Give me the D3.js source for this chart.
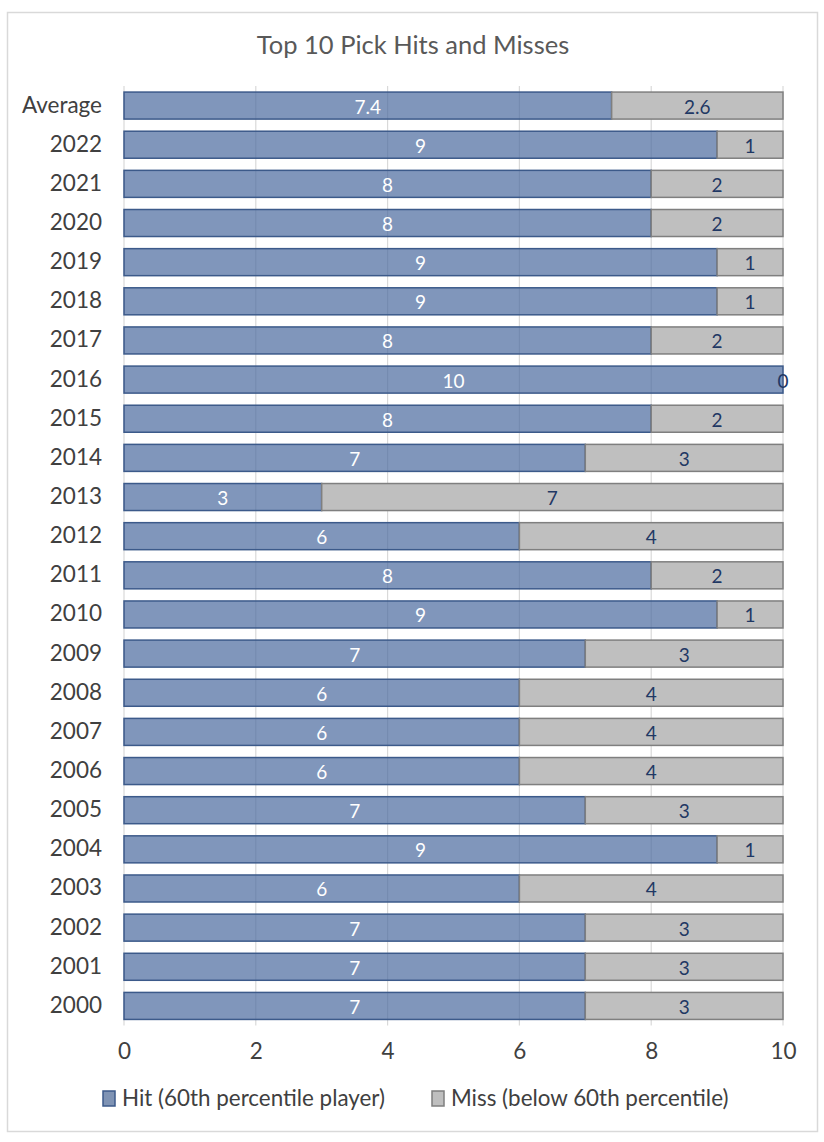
<!DOCTYPE html>
<html>
<head>
<meta charset="utf-8">
<script src="https://cdn.jsdelivr.net/npm/d3@7"></script>
<style>
  body { margin: 0; background: #fff; }
  svg text { font-family: Lato, "Open Sans", sans-serif; }
</style>
</head>
<body>
<svg id="chart" width="824" height="1142"></svg>
<script>
// Data ////////////////////////////////////////////////////////////////
var categories = ["Average", "2022", "2021", "2020", "2019", "2018", "2017", "2016", "2015", "2014",
    "2013", "2012", "2011", "2010", "2009", "2008", "2007", "2006", "2005", "2004",
    "2003", "2002", "2001", "2000"];
var hits   = [7.4, 9, 8, 8, 9, 9, 8, 10, 8, 7, 3, 6, 8, 9, 7, 6, 6, 6, 7, 9, 6, 7, 7, 7];
var misses = [2.6, 1, 2, 2, 1, 1, 2, 0, 2, 3, 7, 4, 2, 1, 3, 4, 4, 4, 3, 1, 4, 3, 3, 3];
var xTicks = [0, 2, 4, 6, 8, 10];
var seriesNames = ["Hit (60th percentile player)", "Miss (below 60th percentile)"];

var rows = categories.map(function(c, i) { return {cat: c, hit: hits[i], miss: misses[i]} });

var svg = d3.select("#chart");

// Frame
svg.append("rect")
    .attr("x", 7.5).attr("y", 12.5)
    .attr("width", 810).attr("height", 1119)
    .attr("fill", "#fff")
    .attr("stroke", "#d9d9d9")
    .attr("stroke-width", 1.5);

// Title
svg.append("text")
    .attr("x", 413).attr("y", 54)
    .attr("text-anchor", "middle")
    .attr("font-size", 25.5)
    .attr("fill", "#595959")
    .text("Top 10 Pick Hits and Misses");

// Scales
var scaleX = d3.scaleLinear().domain([0, 10]).range([124, 783]);
var scaleY = d3.scaleBand().domain(categories).range([86, 1025.5]).paddingInner(0.31).paddingOuter(0.155);

// Gridlines
svg.selectAll(".grid")
    .data(xTicks)
    .enter()
    .append("line")
        .attr("class", "grid")
        .attr("x1", function(d) { return scaleX(d) })
        .attr("x2", function(d) { return scaleX(d) })
        .attr("y1", 86)
        .attr("y2", 1025.5)
        .attr("stroke", "#d9d9d9")
        .attr("stroke-width", 1.2);

// Hit bars (semi transparent so the grid shows through)
svg.selectAll(".hit")
    .data(rows)
    .enter()
    .append("rect")
        .attr("class", "hit")
        .attr("x", scaleX(0))
        .attr("y", function(d) { return scaleY(d.cat) })
        .attr("width", function(d) { return scaleX(d.hit) - scaleX(0) })
        .attr("height", scaleY.bandwidth())
        .attr("fill", "#4a6a9e")
        .attr("fill-opacity", 0.7)
        .attr("stroke", "#3c5a8a")
        .attr("stroke-width", 1.5);

// Miss bars
svg.selectAll(".miss")
    .data(rows.filter(function(d) { return d.miss > 0 }))
    .enter()
    .append("rect")
        .attr("class", "miss")
        .attr("x", function(d) { return scaleX(d.hit) })
        .attr("y", function(d) { return scaleY(d.cat) })
        .attr("width", function(d) { return scaleX(d.hit + d.miss) - scaleX(d.hit) })
        .attr("height", scaleY.bandwidth())
        .attr("fill", "#bfbfbf")
        .attr("stroke", "#7f7f7f")
        .attr("stroke-width", 1.5);

// Value labels
svg.selectAll(".hit-label")
    .data(rows)
    .enter()
    .append("text")
        .attr("x", function(d) { return scaleX(d.hit / 2) })
        .attr("y", function(d) { return scaleY(d.cat) + scaleY.bandwidth() / 2 + 8 })
        .attr("text-anchor", "middle")
        .attr("font-size", 19)
        .attr("fill", "#ffffff")
        .text(function(d) { return d.hit });

svg.selectAll(".miss-label")
    .data(rows)
    .enter()
    .append("text")
        .attr("x", function(d) { return scaleX(d.hit + d.miss / 2) })
        .attr("y", function(d) { return scaleY(d.cat) + scaleY.bandwidth() / 2 + 8 })
        .attr("text-anchor", "middle")
        .attr("font-size", 19)
        .attr("fill", "#1f3864")
        .text(function(d) { return d.miss });

// Category labels
svg.selectAll(".cat-label")
    .data(categories)
    .enter()
    .append("text")
        .attr("x", 102)
        .attr("y", function(d) { return scaleY(d) + scaleY.bandwidth() / 2 + 7 })
        .attr("text-anchor", "end")
        .attr("font-size", 22.5)
        .attr("fill", "#404040")
        .text(function(d) { return d });

// X axis labels
var xAxis = d3.axisBottom(scaleX).tickValues(xTicks).tickSize(0).tickPadding(0);
var axisG = svg.append("g")
    .attr("transform", "translate(0,1059)")
    .call(xAxis);
axisG.select(".domain").remove();
axisG.selectAll("text")
    .attr("font-size", 22.5)
    .attr("font-family", "Lato, 'Open Sans', sans-serif")
    .attr("fill", "#404040")
    .attr("dy", 0);

// Legend
var legendX = [103, 432];
var legendFill = ["#7f93b4", "#bfbfbf"];
var legendStroke = ["#3c5a8a", "#7f7f7f"];
var legend = svg.selectAll(".legend")
    .data(seriesNames)
    .enter()
    .append("g")
        .attr("class", "legend")
        .attr("transform", function(d, i) { return "translate(" + legendX[i] + ",1091)" });
legend.append("rect")
    .attr("width", 12).attr("height", 15)
    .attr("fill", function(d, i) { return legendFill[i] })
    .attr("stroke", function(d, i) { return legendStroke[i] })
    .attr("stroke-width", 1.5);
legend.append("text")
    .attr("x", 19).attr("y", 15)
    .attr("font-size", 22.4)
    .attr("fill", "#404040")
    .text(function(d) { return d });
</script>
</body>
</html>
